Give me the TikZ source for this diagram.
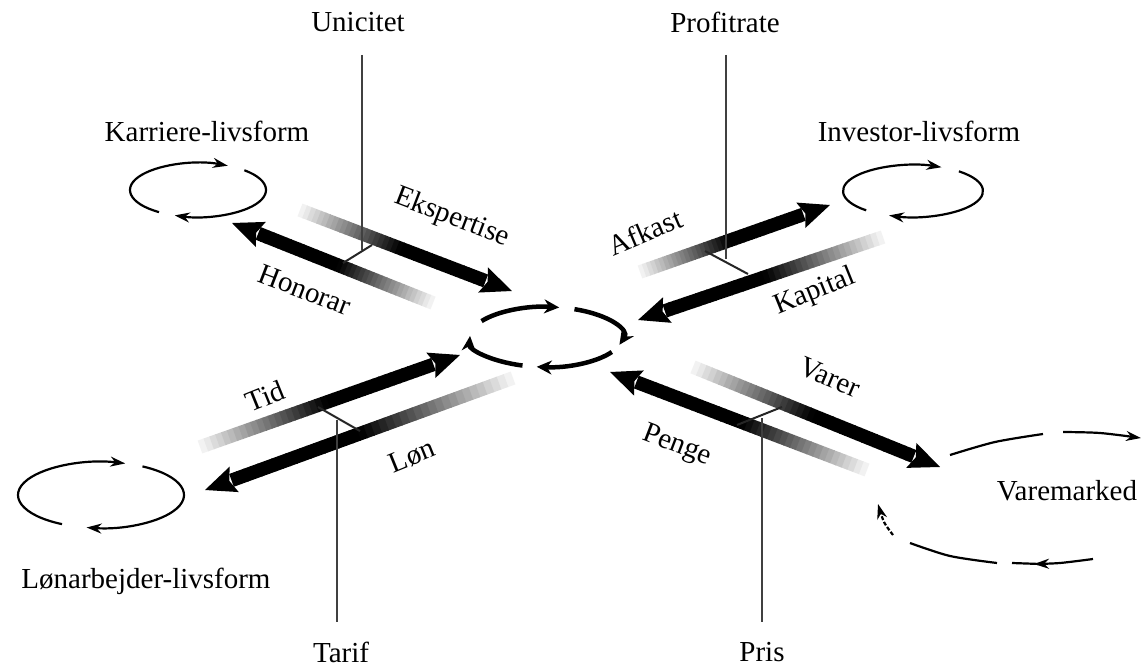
\documentclass[tikz,border=0pt]{standalone}
\usepackage{fontspec}
\setmainfont{Liberation Serif}
\usetikzlibrary{arrows.meta}
% gradient arrow: tail (x1,y1) -> head (x2,y2)
\newcommand{\gradarrow}[4]{%
  \pgfmathsetmacro\gdx{#3-#1}%
  \pgfmathsetmacro\gdy{#4-#2}%
  \pgfmathsetmacro\glen{veclen(\gdx,\gdy)}%
  \pgfmathsetmacro\gang{atan2(-\gdy,\gdx)}%
  \pgfmathsetmacro\gbody{\glen-29}%
  \begin{scope}[shift={(#1,#2)}, rotate=\gang]
    \foreach \i in {0,...,39}{
      \pgfmathsetmacro\ga{\i/40*\gbody}
      \pgfmathsetmacro\gb{(\i+1)/40*\gbody+0.8}
      \pgfmathtruncatemacro\gp{min(100,5+180*\i/40)}
      \fill[black!\gp!white] (\ga,-6.8) rectangle (\gb,6.8);
    }
    \fill[black] (\gbody-2,-13.5) -- (\glen,0) -- (\gbody-2,13.5) -- (\gbody+3,0) -- cycle;
  \end{scope}}
\tikzset{
  lbl/.style={font=\fontsize{29}{33}\selectfont, inner sep=0pt},
  vline/.style={line width=1.3pt, black!75},
  link/.style={line width=2pt, black!85},
  hubring/.style={line width=4.5pt, -{Stealth[length=15pt,width=14pt]}},
  loopring/.style={line width=2.2pt, -{Stealth[length=15pt,width=10pt]}},
  loopplain/.style={line width=2.2pt}
}
\begin{document}
\begin{tikzpicture}[x=1pt,y=-1pt]
\useasboundingbox[fill=white] (0,0) rectangle (1143,671);

% ---- labels
\node[lbl] (uni) at (358,22) {Unicitet};
\node[lbl] (pro) at (725,22) {Profitrate};
\node[lbl] (kar) at (207,131) {Karriere-livsform};
\node[lbl] (inv) at (919,131) {Investor-livsform};
\node[lbl] (lon) at (146,581) {Lønarbejder-livsform};
\node[lbl] (tar) at (341,652) {Tarif};
\node[lbl] (pri) at (762,652) {Pris};
\node[lbl] (vm) at (1067,491) {Varemarked};

% ---- arrows
\gradarrow{433}{303}{232}{223}   % Honorar
\gradarrow{300}{210}{512}{291}   % Ekspertise
\gradarrow{640}{272}{830}{205}   % Afkast
\gradarrow{883}{237}{638}{320}   % Kapital
\gradarrow{200}{447}{460}{355}   % Tid
\gradarrow{513}{378}{205}{490}   % Loen
\gradarrow{867}{470}{610}{372}   % Penge
\gradarrow{693}{367}{940}{467}   % Varer

\node[lbl, rotate=-21] (eks) at (452,218) {Ekspertise};
\node[lbl, rotate=-21] (hon) at (305,290) {Honorar};
\node[lbl, rotate=23] (afk) at (645,232) {Afkast};
\node[lbl, rotate=22] (kap) at (815,292) {Kapital};
\node[lbl, rotate=22] (tid) at (265,396) {Tid};
\node[lbl, rotate=22] (lo) at (412,456) {Løn};
\node[lbl, rotate=-21] (pen) at (677,446) {Penge};
\node[lbl, rotate=-23] (var) at (830,377) {Varer};

% ---- vertical lines and links
\coordinate (uni-top) at (362,55);
\coordinate (uni-end) at (362,250);
\coordinate (uni-a) at (372,245);
\coordinate (uni-b) at (343,263);
\draw[vline] (uni-top) -- (uni-end);
\draw[link] (uni-a) -- (uni-b);

\coordinate (pro-top) at (726,55);
\coordinate (pro-end) at (726,259);
\coordinate (pro-a) at (705,251);
\coordinate (pro-b) at (748,274);
\draw[vline] (pro-top) -- (pro-end);
\draw[link] (pro-a) -- (pro-b);

\coordinate (tar-bot) at (337,622);
\coordinate (tar-end) at (337,420);
\coordinate (tar-a) at (318,407);
\coordinate (tar-b) at (360,431);
\draw[vline] (tar-end) -- (tar-bot);
\draw[link] (tar-a) -- (tar-b);

\coordinate (pri-bot) at (762,622);
\coordinate (pri-end) at (762,418);
\coordinate (pri-a) at (737,425);
\coordinate (pri-b) at (782,407);
\draw[vline] (pri-end) -- (pri-bot);
\draw[link] (pri-a) -- (pri-b);

% ---- central cycle
\draw[hubring] (546,337) ++(212:76 and 30) arc[start angle=212, end angle=280, x radius=76, y radius=30];
\draw[hubring] (546,337) ++(292:76 and 30) arc[start angle=292, end angle=375, x radius=76, y radius=30];
\draw[hubring] (546,337) ++(30:76 and 30) arc[start angle=30, end angle=97, x radius=76, y radius=30];
\draw[hubring] (546,337) ++(108:76 and 30) arc[start angle=108, end angle=182, x radius=76, y radius=30];

% ---- Karriere cycle
\draw[loopring] (198,190) ++(125:68 and 27) arc[start angle=125, end angle=296, x radius=68, y radius=27];
\draw[loopring] (198,190) ++(313:68 and 27) arc[start angle=313, end angle=470, x radius=68, y radius=27];

% ---- Investor cycle
\draw[loopring] (913,191) ++(132:70 and 26) arc[start angle=132, end angle=294, x radius=70, y radius=26];
\draw[loopring] (913,191) ++(311:70 and 26) arc[start angle=311, end angle=470, x radius=70, y radius=26];

% ---- Loenarbejder cycle
\draw[loopring] (101,495) ++(118:83 and 33) arc[start angle=118, end angle=287, x radius=83, y radius=33];
\draw[loopring] (101,495) ++(300:83 and 33) arc[start angle=300, end angle=460, x radius=83, y radius=33];

% ---- Varemarked cycle
\draw[loopplain] plot[smooth] coordinates {(950,455) (995,442) (1043,434)};
\draw[loopring] plot[smooth] coordinates {(1063,432) (1100,433) (1141,438)};
\draw[loopring] plot[smooth] coordinates {(1093,559) (1060,563) (1034,564)};
\draw[loopplain] (1040,564) -- (1012,563);
\draw[loopplain] plot[smooth] coordinates {(997,563) (950,556) (910,543)};
\draw[loopring, dash pattern=on 4pt off 2pt] plot[smooth] coordinates {(893,535) (884,522) (878,504)};
\end{tikzpicture}
\end{document}
